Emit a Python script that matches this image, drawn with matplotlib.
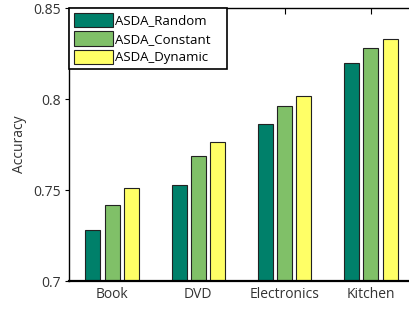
import matplotlib
matplotlib.use('Agg')
import matplotlib.pyplot as plt
import numpy as np

plt.rcParams['font.family'] = ['Open Sans', 'DejaVu Sans']

categories = ['Book', 'DVD', 'Electronics', 'Kitchen']
series = ['ASDA_Random', 'ASDA_Constant', 'ASDA_Dynamic']
asda_random = [0.728, 0.7525, 0.7865, 0.820]
asda_constant = [0.742, 0.7685, 0.796, 0.828]
asda_dynamic = [0.751, 0.7765, 0.8015, 0.833]
colors = ['#00806a', '#80c068', '#ffff66']

fig = plt.figure(figsize=(4.09, 3.09), dpi=100)
ax = fig.add_axes([0.1687, 0.0906, 0.8435, 0.8835])

x = np.arange(1, len(categories) + 1)
width = 0.173
pitch = 0.224
for i, (name, vals) in enumerate(zip(series, [asda_random, asda_constant, asda_dynamic])):
    ax.bar(x + (i - 1) * pitch, vals, width, color=colors[i], edgecolor='#222222',
           linewidth=0.8, label=name, zorder=2)

ax.set_axisbelow(True)
ax.set_xlim(0.5, 4.5)
ax.set_ylim(0.7, 0.85)
ax.set_xticks(x)
ax.set_xticklabels(categories, fontsize=10, color='#333333')
ax.set_yticks([0.7, 0.75, 0.8, 0.85])
ax.set_yticklabels(['0.7', '0.75', '0.8', '0.85'], fontsize=10, color='#333333')
ax.tick_params(axis='x', direction='in', top=True, length=4, width=0.8, pad=4)
ax.tick_params(axis='y', direction='out', right=False, length=3, width=0.8, pad=3)
ax.set_ylabel('Accuracy', fontsize=10, color='#333333', labelpad=4)
for s in ax.spines.values():
    s.set_linewidth(1.0)
ax.spines['bottom'].set_linewidth(1.6)
ax.spines['right'].set_visible(False)

leg = ax.legend(loc='upper left', bbox_to_anchor=(0, 0, 0.458, 1), mode='expand',
                fontsize=9.5, frameon=True, fancybox=False,
                borderaxespad=0, handlelength=3.0, handleheight=1.3,
                handletextpad=0.15, labelspacing=0.3, borderpad=0.35)
leg.get_frame().set_edgecolor('black')
leg.get_frame().set_linewidth(1.2)
leg.get_frame().set_alpha(1)

fig.savefig('out.png', dpi=100)
